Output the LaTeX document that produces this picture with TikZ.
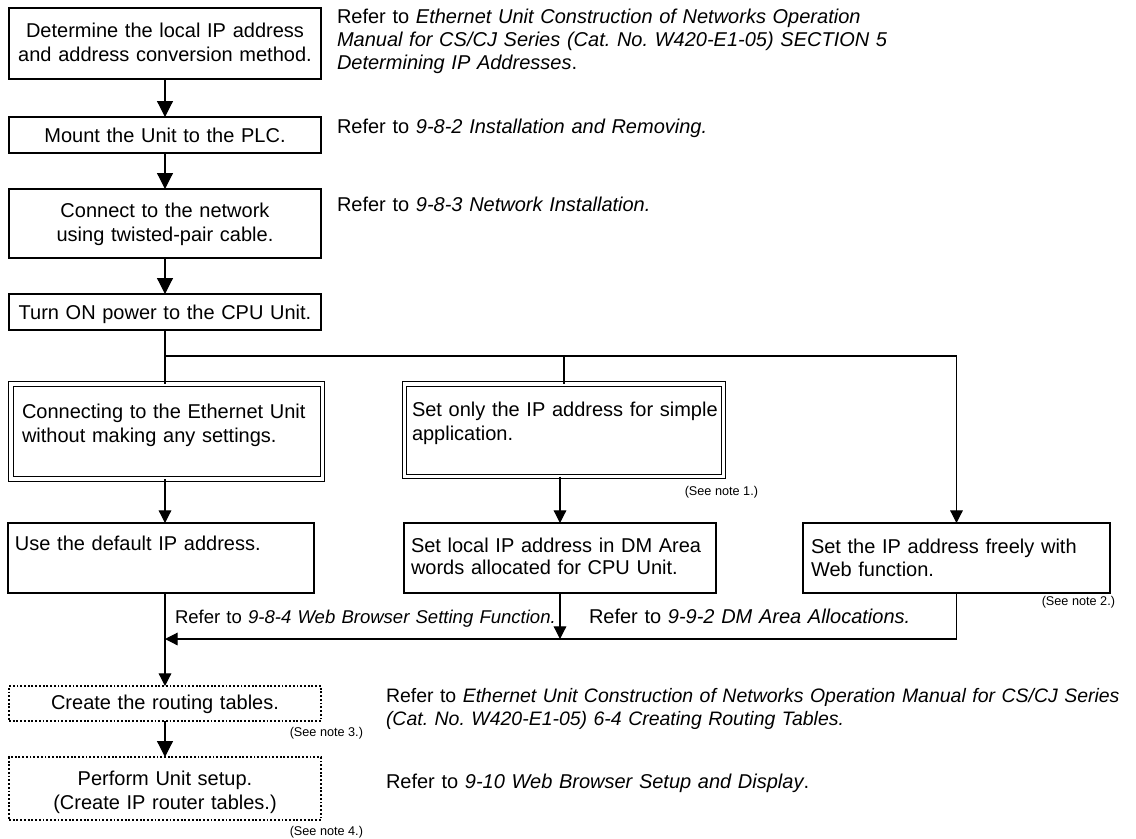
\documentclass[tikz,border=0pt]{standalone}
\usepackage{fontspec}
\setmainfont{Liberation Sans}
\usetikzlibrary{arrows.meta,fit}
\frenchspacing
\begin{document}
\begin{tikzpicture}[x=0.75pt,y=-0.75pt,
  every node/.style={inner sep=0pt, outer sep=0pt},
  box/.style={draw, line width=0.9pt, inner sep=0pt},
  dbox/.style={draw, double, double distance=2.4pt, line width=0.8pt, inner sep=0pt},
  dotbox/.style={draw, line width=0.9pt, dash pattern=on 1.4pt off 1.4pt, inner sep=0pt},
  conn/.style={line width=0.9pt},
  big/.style={conn, -{Triangle[length=12pt,width=12pt]}},
  sm/.style={conn, -{Triangle[length=9.5pt,width=9.5pt]}},
  ctxt/.style={anchor=base, text width=225pt, align=center, font=\fontsize{15pt}{18.5pt}\selectfont},
  ltxt/.style={anchor=base west, text width=500pt, align=left, font=\fontsize{15pt}{17.5pt}\selectfont},
  rtxt/.style={anchor=base west, text width=700pt, align=left, font=\fontsize{15pt}{17.3pt}\selectfont},
  note/.style={anchor=base east, font=\fontsize{9.5pt}{11pt}\selectfont}
]
\useasboundingbox (0,0) rectangle (1136,839);

% boxes
\node[box, fit={(9,8) (321,79)}] (b1) {};
\node[box, fit={(9,117) (321,153)}] (b2) {};
\node[box, fit={(9,189) (321,258)}] (b3) {};
\node[box, fit={(9,294) (321,330)}] (b4) {};
\node[dbox, fit={(11,384) (322.5,479)}] (cn) {};
\node[dbox, fit={(404.5,384) (723.5,476.5)}] (sonly) {};
\node[box, fit={(8,523) (314,593)}] (dflt) {};
\node[box, fit={(404,523) (716,593)}] (slocal) {};
\node[box, fit={(803,523) (1110,593)}] (sweb) {};
\node[dotbox, fit={(9,686) (321,721)}] (route) {};
\node[dotbox, fit={(9,757) (321,820)}] (setup) {};

% box texts
\node[ctxt] (t1) at (165,37) {Determine the local IP address\\and address conversion method.};
\node[ctxt] (t2) at (165,142) {Mount the Unit to the PLC.};
\node[ctxt] (t3) at (165,217) {Connect to the network\\using twisted-pair cable.};
\node[ctxt] (t4) at (165,319) {Turn ON power to the CPU Unit.};
\node[ltxt, font=\fontsize{15pt}{18pt}\selectfont] (t5) at (22,418) {Connecting to the Ethernet Unit\\without making any settings.};
\node[ltxt, font=\fontsize{15pt}{18pt}\selectfont] (t6) at (412,416) {Set only the IP address for simple\\application.};
\node[ltxt] (t7) at (15,550) {Use the default IP address.};
\node[ltxt, font=\fontsize{15pt}{16.5pt}\selectfont] (t8) at (411,552) {Set local IP address in DM Area\\words allocated for CPU Unit.};
\node[ltxt] (t9) at (811,553) {Set the IP address freely with\\Web function.};
\node[ctxt] (t10) at (165,709) {Create the routing tables.};
\node[ctxt, font=\fontsize{15pt}{18pt}\selectfont] (t11) at (165,785) {Perform Unit setup.\\(Create IP router tables.)};

% notes
\node[note] (n1) at (758,495) {(See note 1.)};
\node[note] (n2) at (1115,605) {(See note 2.)};
\node[note] (n3) at (363,736) {(See note 3.)};
\node[note] (n4) at (363,835) {(See note 4.)};

% reference texts
\node[rtxt, font=\fontsize{15pt}{17.5pt}\selectfont] (r1) at (337,23) {Refer to \textit{Ethernet Unit Construction of Networks Operation}\\\textit{Manual for CS/CJ Series (Cat. No. W420-E1-05) SECTION 5}\\\textit{Determining IP Addresses}.};
\node[rtxt] (r2) at (337,133) {Refer to \textit{9-8-2 Installation and Removing.}};
\node[rtxt] (r3) at (337,211) {Refer to \textit{9-8-3 Network Installation.}};
\node[rtxt, font=\fontsize{13.9pt}{16pt}\selectfont] (r4) at (175,623) {Refer to \textit{9-8-4 Web Browser Setting Function.}};
\node[rtxt] (r5) at (589,623) {Refer to \textit{9-9-2 DM Area Allocations.}};
\node[rtxt, font=\fontsize{14.6pt}{17.3pt}\selectfont] (r6) at (386,702) {Refer to \textit{Ethernet Unit Construction of Networks Operation Manual for CS/CJ Series}\\\textit{(Cat. No. W420-E1-05) 6-4 Creating Routing Tables.}};
\node[rtxt] (r7) at (386,788) {Refer to \textit{9-10 Web Browser Setup and Display}.};

% helper coordinates
\coordinate (split) at (165,356);
\coordinate (merge) at (165,639);

% connectors
\draw[big] (b1.south) -- (b2.north);
\draw[big] (b2.south) -- (b3.north);
\draw[big] (b3.south) -- (b4.north);
\draw[conn] (b4.south) -- (b4.south |- cn.north);
\draw[conn] (split) -| (sonly.north);
\draw[sm] (split) -| (sweb.north);
\draw[sm] (cn.south -| split) -- (dflt.north -| split);
\draw[sm] (sonly.south -| slocal.north) -- (slocal.north);
\draw[sm] (sweb.south) |- (merge);
\draw[sm] (slocal.south) -- (slocal.south |- merge);
\draw[sm] (dflt.south -| split) -- (route.north);
\draw[big] (route.south) -- (setup.north);
\end{tikzpicture}
\end{document}
